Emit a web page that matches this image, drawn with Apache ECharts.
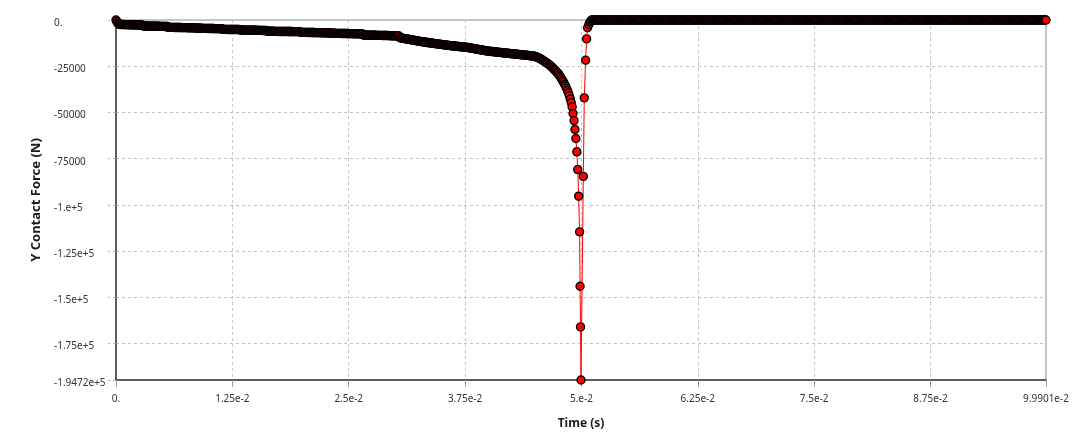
<!DOCTYPE html>
<html>
<head>
<meta charset="utf-8">
<script src="https://cdn.jsdelivr.net/npm/echarts@6/dist/echarts.min.js"></script>
<style>
html,body{margin:0;padding:0;background:#fff;}
#chart{width:1080px;height:436px;}
</style>
</head>
<body>
<div id="chart"></div>
<script>
// Time in milliseconds, force in newtons
const descentTime = [
0.0,0.1,0.2,0.3,0.4,0.5,0.6,0.7,0.8,0.9,
1.0,1.1,1.2,1.3,1.4,1.5,1.6,1.7,1.8,1.9,
2.0,2.1,2.2,2.3,2.4,2.5,2.6,2.7,2.8,2.9,
3.0,3.1,3.2,3.3,3.4,3.5,3.6,3.7,3.8,3.9,
4.0,4.1,4.2,4.3,4.4,4.5,4.6,4.7,4.8,4.9,
5.0,5.1,5.2,5.3,5.4,5.5,5.6,5.7,5.8,5.9,
6.0,6.1,6.2,6.3,6.4,6.5,6.6,6.7,6.8,6.9,
7.0,7.1,7.2,7.3,7.4,7.5,7.6,7.7,7.8,7.9,
8.0,8.1,8.2,8.3,8.4,8.5,8.6,8.7,8.8,8.9,
9.0,9.1,9.2,9.3,9.4,9.5,9.6,9.7,9.8,9.9,
10.0,10.1,10.2,10.3,10.4,10.5,10.6,10.7,10.8,10.9,
11.0,11.1,11.2,11.3,11.4,11.5,11.6,11.7,11.8,11.9,
12.0,12.1,12.2,12.3,12.4,12.5,12.6,12.7,12.8,12.9,
13.0,13.1,13.2,13.3,13.4,13.5,13.6,13.7,13.8,13.9,
14.0,14.1,14.2,14.3,14.4,14.5,14.6,14.7,14.8,14.9,
15.0,15.1,15.2,15.3,15.4,15.5,15.6,15.7,15.8,15.9,
16.0,16.1,16.2,16.3,16.4,16.5,16.6,16.7,16.8,16.9,
17.0,17.1,17.2,17.3,17.4,17.5,17.6,17.7,17.8,17.9,
18.0,18.1,18.2,18.3,18.4,18.5,18.6,18.7,18.8,18.9,
19.0,19.1,19.2,19.3,19.4,19.5,19.6,19.7,19.8,19.9,
20.0,20.1,20.2,20.3,20.4,20.5,20.6,20.7,20.8,20.9,
21.0,21.1,21.2,21.3,21.4,21.5,21.6,21.7,21.8,21.9,
22.0,22.1,22.2,22.3,22.4,22.5,22.6,22.7,22.8,22.9,
23.0,23.1,23.2,23.3,23.4,23.5,23.6,23.7,23.8,23.9,
24.0,24.1,24.2,24.3,24.4,24.5,24.6,24.7,24.8,24.9,
25.0,25.1,25.2,25.3,25.4,25.5,25.6,25.7,25.8,25.9,
26.0,26.1,26.2,26.3,26.4,26.5,26.6,26.7,26.8,26.9,
27.0,27.1,27.2,27.3,27.4,27.5,27.6,27.7,27.8,27.9,
28.0,28.1,28.2,28.3,28.4,28.5,28.6,28.7,28.8,28.9,
29.0,29.1,29.2,29.3,29.4,29.5,29.6,29.7,29.8,29.9,
30.0,30.1,30.2,30.3,30.4,30.5,30.6,30.7,30.8,30.9,
31.0,31.1,31.2,31.3,31.4,31.5,31.6,31.7,31.8,31.9,
32.0,32.1,32.2,32.3,32.4,32.5,32.6,32.7,32.8,32.9,
33.0,33.1,33.2,33.3,33.4,33.5,33.6,33.7,33.8,33.9,
34.0,34.1,34.2,34.3,34.4,34.5,34.6,34.7,34.8,34.9,
35.0,35.1,35.2,35.3,35.4,35.5,35.6,35.7,35.8,35.9,
36.0,36.1,36.2,36.3,36.4,36.5,36.6,36.7,36.8,36.9,
37.0,37.1,37.2,37.3,37.4,37.5,37.6,37.7,37.8,37.9,
38.0,38.1,38.2,38.3,38.4,38.5,38.6,38.7,38.8,38.9,
39.0,39.1,39.2,39.3,39.4,39.5,39.6,39.7,39.8,39.9,
40.0,40.1,40.2,40.3,40.4,40.5,40.6,40.7,40.8,40.9,
41.0,41.1,41.2,41.3,41.4,41.5,41.6,41.7,41.8,41.9,
42.0,42.1,42.2,42.3,42.4,42.5,42.6,42.7,42.8,42.9,
43.0,43.1,43.2,43.3,43.4,43.5,43.6,43.7,43.8,43.9,
44.0,44.1,44.2,44.3,44.4,44.5,44.6,44.7,44.8,44.9,
45.0,45.1,45.2,45.3,45.4,45.5,45.6,45.7,45.8,45.9,
46.0,46.1,46.2,46.3,46.4,46.5,46.6,46.7,46.8,46.9,
47.0,47.1,47.2,47.3,47.4,47.5,47.6,47.7,47.8,47.9,
48.0,48.1,48.2,48.3,48.4,48.5,48.6,48.7,48.8,48.9
];
const descentForce = [
0,-900,-1700,-2200,-2400,-2420,-2430,-2450,-2460,-2480,
-2490,-2500,-2520,-2530,-2540,-2560,-2570,-2580,-2600,-2610,
-2620,-2630,-2650,-2660,-2670,-2680,-2690,-2700,-2710,-3250,
-3260,-3270,-3280,-3290,-3300,-3310,-3320,-3330,-3340,-3350,
-3360,-3370,-3380,-3390,-3400,-3410,-3420,-3430,-3440,-3450,
-3460,-3470,-3480,-3490,-3500,-3510,-3950,-3960,-3970,-3980,
-3990,-4000,-4010,-4020,-4030,-4040,-4050,-4060,-4070,-4080,
-4090,-4100,-4110,-4120,-4130,-4140,-4150,-4160,-4170,-4180,
-4190,-4200,-4210,-4220,-4230,-4240,-4250,-4450,-4460,-4470,
-4480,-4490,-4500,-4510,-4520,-4530,-4540,-4550,-4560,-4570,
-4580,-4590,-4600,-4610,-4620,-4630,-4640,-4650,-4660,-4670,
-4680,-4690,-4700,-4710,-4720,-5050,-5060,-5070,-5080,-5090,
-5100,-5100,-5110,-5110,-5120,-5120,-5130,-5130,-5140,-5140,
-5150,-5150,-5160,-5400,-5410,-5420,-5430,-5440,-5450,-5460,
-5470,-5480,-5490,-5500,-5510,-5520,-5530,-5540,-5550,-5560,
-5570,-5580,-5590,-5600,-5610,-5620,-5630,-5640,-5650,-5650,
-5660,-5660,-6050,-6060,-6070,-6080,-6090,-6100,-6110,-6120,
-6130,-6140,-6150,-6160,-6170,-6180,-6190,-6200,-6210,-6210,
-6220,-6220,-6230,-6230,-6240,-6240,-6250,-6250,-6260,-6260,
-6270,-6270,-6280,-6280,-6290,-6290,-6300,-6300,-6650,-6660,
-6670,-6680,-6690,-6700,-6710,-6720,-6730,-6740,-6750,-6760,
-6770,-6780,-6790,-6800,-6810,-6820,-6830,-6840,-6850,-6860,
-6870,-6880,-6890,-6900,-6910,-6920,-6930,-6940,-6950,-6950,
-7150,-7160,-7170,-7180,-7190,-7200,-7210,-7220,-7230,-7240,
-7250,-7260,-7270,-7280,-7290,-7300,-7310,-7320,-7330,-7340,
-7350,-7360,-7370,-7380,-7390,-7400,-7410,-7420,-7430,-7440,
-7450,-7460,-7470,-7480,-7490,-7500,-8150,-8160,-8170,-8180,
-8190,-8200,-8210,-8220,-8230,-8240,-8250,-8260,-8270,-8280,
-8290,-8300,-8310,-8320,-8330,-8340,-8350,-8360,-8370,-8380,
-8390,-8400,-8420,-8440,-8460,-8480,-8500,-8520,-8540,-8560,
-8580,-8600,-8620,-8640,-8660,-9600,-9690,-9780,-9870,-9960,
-10050,-10140,-10230,-10320,-10410,-10500,-10590,-10680,-10770,-10860,
-10950,-11040,-11130,-11220,-11310,-11400,-11490,-11580,-11670,-11760,
-11850,-11920,-11990,-12060,-12130,-12200,-12270,-12340,-12410,-12480,
-12550,-12620,-12690,-12760,-12830,-12900,-12970,-13040,-13110,-13180,
-13250,-13320,-13390,-13460,-13530,-13600,-13670,-13740,-13800,-13860,
-13910,-13960,-14010,-14070,-14120,-14170,-14230,-14280,-14330,-14390,
-14440,-14490,-14550,-14600,-14650,-14710,-14760,-14820,-14900,-14990,
-15080,-15170,-15260,-15350,-15440,-15530,-15620,-15710,-15800,-15890,
-15980,-16070,-16160,-16250,-16340,-16430,-16520,-16610,-16700,-16790,
-16850,-16910,-16960,-17020,-17070,-17130,-17180,-17240,-17290,-17350,
-17400,-17460,-17510,-17570,-17620,-17680,-17730,-17790,-17840,-17900,
-17950,-18000,-18060,-18110,-18170,-18220,-18270,-18330,-18380,-18440,
-18490,-18540,-18600,-18650,-18710,-18760,-18820,-18870,-18930,-18980,
-19040,-19090,-19150,-19200,-19260,-19310,-19370,-19420,-19480,-19560,
-19700,-19850,-20050,-20250,-20500,-20750,-21000,-21300,-21600,-21950,
-22300,-22650,-23000,-23350,-23700,-24050,-24450,-24900,-25350,-25850,
-26400,-26900,-27400,-27900,-28450,-29000,-29700,-30450,-31250,-32100,
-33000,-33900,-34850,-35800,-36950,-38150,-39500,-41000,-42700,-44600
];
const dipTime = [49.0,49.1,49.2,49.3,49.4,49.5,49.6,49.7,49.8,49.85,49.9,49.95,50.2,50.3,50.45,50.55,50.65,50.8,50.9,51.0];
const dipForce = [-47000,-50600,-54400,-59200,-64100,-71300,-80900,-95300,-114600,-144000,-166000,-194720,-84600,-42100,-21750,-10200,-4200,-2400,-1200,-500];
const tailTime = [
51.1,51.2,51.3,51.4,51.5,51.6,51.7,51.8,51.9,
52.0,52.1,52.2,52.3,52.4,52.5,52.6,52.7,52.8,52.9,
53.0,53.1,53.2,53.3,53.4,53.5,53.6,53.7,53.8,53.9,
54.0,54.1,54.2,54.3,54.4,54.5,54.6,54.7,54.8,54.9,
55.0,55.1,55.2,55.3,55.4,55.5,55.6,55.7,55.8,55.9,
56.0,56.1,56.2,56.3,56.4,56.5,56.6,56.7,56.8,56.9,
57.0,57.1,57.2,57.3,57.4,57.5,57.6,57.7,57.8,57.9,
58.0,58.1,58.2,58.3,58.4,58.5,58.6,58.7,58.8,58.9,
59.0,59.1,59.2,59.3,59.4,59.5,59.6,59.7,59.8,59.9,
60.0,60.1,60.2,60.3,60.4,60.5,60.6,60.7,60.8,60.9,
61.0,61.1,61.2,61.3,61.4,61.5,61.6,61.7,61.8,61.9,
62.0,62.1,62.2,62.3,62.4,62.5,62.6,62.7,62.8,62.9,
63.0,63.1,63.2,63.3,63.4,63.5,63.6,63.7,63.8,63.9,
64.0,64.1,64.2,64.3,64.4,64.5,64.6,64.7,64.8,64.9,
65.0,65.1,65.2,65.3,65.4,65.5,65.6,65.7,65.8,65.9,
66.0,66.1,66.2,66.3,66.4,66.5,66.6,66.7,66.8,66.9,
67.0,67.1,67.2,67.3,67.4,67.5,67.6,67.7,67.8,67.9,
68.0,68.1,68.2,68.3,68.4,68.5,68.6,68.7,68.8,68.9,
69.0,69.1,69.2,69.3,69.4,69.5,69.6,69.7,69.8,69.9,
70.0,70.1,70.2,70.3,70.4,70.5,70.6,70.7,70.8,70.9,
71.0,71.1,71.2,71.3,71.4,71.5,71.6,71.7,71.8,71.9,
72.0,72.1,72.2,72.3,72.4,72.5,72.6,72.7,72.8,72.9,
73.0,73.1,73.2,73.3,73.4,73.5,73.6,73.7,73.8,73.9,
74.0,74.1,74.2,74.3,74.4,74.5,74.6,74.7,74.8,74.9,
75.0,75.1,75.2,75.3,75.4,75.5,75.6,75.7,75.8,75.9,
76.0,76.1,76.2,76.3,76.4,76.5,76.6,76.7,76.8,76.9,
77.0,77.1,77.2,77.3,77.4,77.5,77.6,77.7,77.8,77.9,
78.0,78.1,78.2,78.3,78.4,78.5,78.6,78.7,78.8,78.9,
79.0,79.1,79.2,79.3,79.4,79.5,79.6,79.7,79.8,79.9,
80.0,80.1,80.2,80.3,80.4,80.5,80.6,80.7,80.8,80.9,
81.0,81.1,81.2,81.3,81.4,81.5,81.6,81.7,81.8,81.9,
82.0,82.1,82.2,82.3,82.4,82.5,82.6,82.7,82.8,82.9,
83.0,83.1,83.2,83.3,83.4,83.5,83.6,83.7,83.8,83.9,
84.0,84.1,84.2,84.3,84.4,84.5,84.6,84.7,84.8,84.9,
85.0,85.1,85.2,85.3,85.4,85.5,85.6,85.7,85.8,85.9,
86.0,86.1,86.2,86.3,86.4,86.5,86.6,86.7,86.8,86.9,
87.0,87.1,87.2,87.3,87.4,87.5,87.6,87.7,87.8,87.9,
88.0,88.1,88.2,88.3,88.4,88.5,88.6,88.7,88.8,88.9,
89.0,89.1,89.2,89.3,89.4,89.5,89.6,89.7,89.8,89.9,
90.0,90.1,90.2,90.3,90.4,90.5,90.6,90.7,90.8,90.9,
91.0,91.1,91.2,91.3,91.4,91.5,91.6,91.7,91.8,91.9,
92.0,92.1,92.2,92.3,92.4,92.5,92.6,92.7,92.8,92.9,
93.0,93.1,93.2,93.3,93.4,93.5,93.6,93.7,93.8,93.9,
94.0,94.1,94.2,94.3,94.4,94.5,94.6,94.7,94.8,94.9,
95.0,95.1,95.2,95.3,95.4,95.5,95.6,95.7,95.8,95.9,
96.0,96.1,96.2,96.3,96.4,96.5,96.6,96.7,96.8,96.9,
97.0,97.1,97.2,97.3,97.4,97.5,97.6,97.7,97.8,97.9,
98.0,98.1,98.2,98.3,98.4,98.5,98.6,98.7,98.8,98.9,
99.0,99.1,99.2,99.3,99.4,99.5,99.6,99.7,99.8,99.901
];
const tailForce = [
0,0,0,0,0,0,0,0,0,
0,0,0,0,0,0,0,0,0,0,
0,0,0,0,0,0,0,0,0,0,
0,0,0,0,0,0,0,0,0,0,
0,0,0,0,0,0,0,0,0,0,
0,0,0,0,0,0,0,0,0,0,
0,0,0,0,0,0,0,0,0,0,
0,0,0,0,0,0,0,0,0,0,
0,0,0,0,0,0,0,0,0,0,
0,0,0,0,0,0,0,0,0,0,
0,0,0,0,0,0,0,0,0,0,
0,0,0,0,0,0,0,0,0,0,
0,0,0,0,0,0,0,0,0,0,
0,0,0,0,0,0,0,0,0,0,
0,0,0,0,0,0,0,0,0,0,
0,0,0,0,0,0,0,0,0,0,
0,0,0,0,0,0,0,0,0,0,
0,0,0,0,0,0,0,0,0,0,
0,0,0,0,0,0,0,0,0,0,
0,0,0,0,0,0,0,0,0,0,
0,0,0,0,0,0,0,0,0,0,
0,0,0,0,0,0,0,0,0,0,
0,0,0,0,0,0,0,0,0,0,
0,0,0,0,0,0,0,0,0,0,
0,0,0,0,0,0,0,0,0,0,
0,0,0,0,0,0,0,0,0,0,
0,0,0,0,0,0,0,0,0,0,
0,0,0,0,0,0,0,0,0,0,
0,0,0,0,0,0,0,0,0,0,
0,0,0,0,0,0,0,0,0,0,
0,0,0,0,0,0,0,0,0,0,
0,0,0,0,0,0,0,0,0,0,
0,0,0,0,0,0,0,0,0,0,
0,0,0,0,0,0,0,0,0,0,
0,0,0,0,0,0,0,0,0,0,
0,0,0,0,0,0,0,0,0,0,
0,0,0,0,0,0,0,0,0,0,
0,0,0,0,0,0,0,0,0,0,
0,0,0,0,0,0,0,0,0,0,
0,0,0,0,0,0,0,0,0,0,
0,0,0,0,0,0,0,0,0,0,
0,0,0,0,0,0,0,0,0,0,
0,0,0,0,0,0,0,0,0,0,
0,0,0,0,0,0,0,0,0,0,
0,0,0,0,0,0,0,0,0,0,
0,0,0,0,0,0,0,0,0,0,
0,0,0,0,0,0,0,0,0,0,
0,0,0,0,0,0,0,0,0,0,
0,0,0,0,0,0,0,0,0,0
];

const xTickValues = [0, 12.5, 25, 37.5, 50, 62.5, 75, 87.5, 99.901];
const xTickLabels = ['0.', '1.25e-2', '2.5e-2', '3.75e-2', '5.e-2', '6.25e-2', '7.5e-2', '8.75e-2', '9.9901e-2'];
const yTickValues = [0, -25000, -50000, -75000, -100000, -125000, -150000, -175000, -194720];
const yTickLabels = ['0.', '-25000', '-50000', '-75000', '-1.e+5', '-1.25e+5', '-1.5e+5', '-1.75e+5', '-1.9472e+5'];

function pairs(ts, fs) { return ts.map((t, i) => [t, fs[i]]); }
const seriesData = pairs(descentTime, descentForce)
  .concat(pairs(dipTime, dipForce))
  .concat(pairs(tailTime, tailForce));

function lookup(vals, labels, v) {
  let best = 0, bd = Infinity;
  vals.forEach((x, i) => { const d = Math.abs(x - v); if (d < bd) { bd = d; best = i; } });
  return bd < 1e-6 * Math.max(1, Math.abs(v)) + 1e-9 ? labels[best] : '';
}

const FONT = 'Noto Sans';
const chart = echarts.init(document.getElementById('chart'), null, {renderer: 'canvas'});
chart.setOption({
  animation: false,
  backgroundColor: '#ffffff',
  grid: {left: 116, right: 34, top: 20, bottom: 56, show: true, borderColor: '#8a8a8a', borderWidth: 1, backgroundColor: 'transparent'},
  xAxis: {
    type: 'value', min: 0, max: 99.901,
    name: 'Time (s)', nameLocation: 'middle', nameGap: 38,
    nameTextStyle: {fontFamily: FONT, fontWeight: 'bold', fontSize: 12, color: '#1a1a1a'},
    axisLine: {show: true, onZero: false, lineStyle: {color: '#3a3a3a', width: 1.5}},
    axisTick: {show: true, length: 7, customValues: xTickValues, lineStyle: {color: '#9a9a9a'}},
    axisLabel: {customValues: xTickValues, margin: 14, fontFamily: FONT, fontSize: 10, color: '#333',
      formatter: v => lookup(xTickValues, xTickLabels, v)},
    splitLine: {show: true, lineStyle: {color: '#c4c4c4', type: [3, 3], width: 1}}
  },
  yAxis: {
    type: 'value', min: -194720, max: 0,
    name: 'Y Contact Force (N)', nameLocation: 'middle', nameGap: 71, nameRotate: 90,
    nameTextStyle: {fontFamily: FONT, fontWeight: 'bold', fontSize: 13, color: '#1a1a1a'},
    axisLine: {show: true, onZero: false, lineStyle: {color: '#3a3a3a', width: 1.5}},
    axisTick: {show: true, length: 8, customValues: yTickValues, lineStyle: {color: '#b0b0b0', type: [3, 3]}},
    axisLabel: {customValues: yTickValues, margin: 62, align: 'left', verticalAlign: 'top', lineHeight: 6,
      fontFamily: FONT, fontSize: 10, color: '#333',
      formatter: v => lookup(yTickValues, yTickLabels, v)},
    splitLine: {show: true, lineStyle: {color: '#c4c4c4', type: [3, 3], width: 1}}
  },
  series: [{
    type: 'line',
    data: seriesData,
    clip: false,
    silent: true,
    symbol: 'circle',
    symbolSize: 8,
    showSymbol: true,
    lineStyle: {color: '#ff0000', width: 1},
    itemStyle: {color: '#ff0000', borderColor: '#000000', borderWidth: 1.4},
    emphasis: {disabled: true}
  }]
});
</script>
</body>
</html>
